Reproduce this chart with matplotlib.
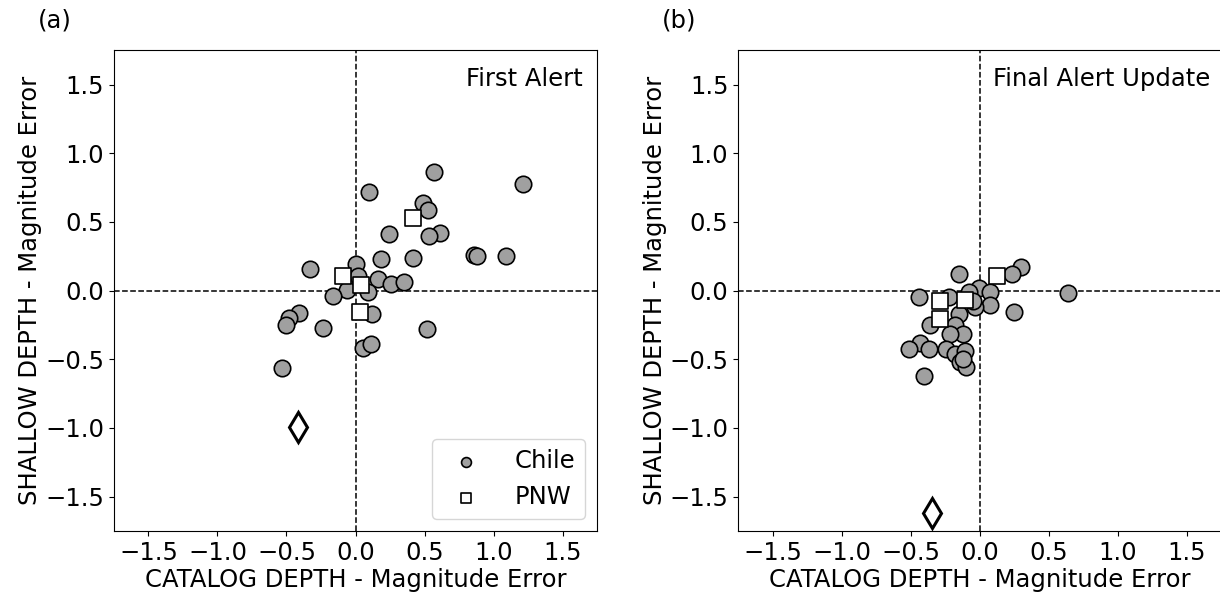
import matplotlib
matplotlib.use("Agg")
import matplotlib.pyplot as plt
import numpy as np

# (a) first alert: catalog-depth error vs shallow-depth error
chile_a_x = [0.572, 1.213, 0.099, 0.486, 0.522, 0.609, 0.534, 0.242, 0.188, 0.413,
             0.855, 0.879, 1.092, -0.329, 0.000, 0.020, 0.164, 0.254, 0.353, -0.065,
             -0.162, 0.092, -0.408, -0.481, -0.507, -0.237, 0.123, 0.517, 0.051,
             0.111, -0.536]
chile_a_y = [0.864, 0.774, 0.718, 0.638, 0.587, 0.420, 0.398, 0.410, 0.231, 0.238,
             0.262, 0.252, 0.255, 0.155, 0.192, 0.105, 0.085, 0.051, 0.066, 0.002,
             -0.036, -0.007, -0.165, -0.199, -0.252, -0.269, -0.172, -0.282, -0.420,
             -0.388, -0.563]
pnw_a_x = [0.415, -0.094, 0.039, 0.036]
pnw_a_y = [0.529, 0.104, 0.044, -0.153]
outlier_a = (-0.418, -0.990)

# (b) final alert update
chile_b_x = [0.297, 0.234, -0.147, 0.640, -0.005, 0.072, -0.077, -0.222, -0.437, 0.077,
             0.251, -0.036, -0.048, -0.150, -0.362, -0.176, -0.121, -0.217, -0.435,
             -0.510, -0.367, -0.242, -0.181, -0.104, -0.145, -0.101, -0.118, -0.406]
chile_b_y = [0.172, 0.119, 0.119, -0.019, 0.017, -0.012, -0.012, -0.044, -0.044, -0.102,
             -0.153, -0.121, -0.073, -0.172, -0.252, -0.252, -0.316, -0.316, -0.381,
             -0.427, -0.427, -0.425, -0.461, -0.437, -0.522, -0.558, -0.498, -0.619]
pnw_b_x = [0.126, -0.285, -0.109, -0.290]
pnw_b_y = [0.107, -0.073, -0.068, -0.206]
outlier_b = (-0.345, -1.619)

ticks = [-1.5, -1.0, -0.5, 0.0, 0.5, 1.0, 1.5]
lim = (-1.75, 1.75)

plt.rcParams['font.size'] = 17.5

fig = plt.figure(figsize=(12.2, 5.98), dpi=100)
ax_a = fig.add_axes([0.0934, 0.112, 0.396, 0.804])
ax_b = fig.add_axes([0.605, 0.112, 0.396, 0.804])

panels = [
    (ax_a, chile_a_x, chile_a_y, pnw_a_x, pnw_a_y, outlier_a, "First Alert", "(a)", 0.971),
    (ax_b, chile_b_x, chile_b_y, pnw_b_x, pnw_b_y, outlier_b, "Final Alert Update", "(b)", 0.978),
]

for ax, cx, cy, px, py, out, title, tag, tx in panels:
    ax.axhline(0, color='k', ls='--', lw=1.1, zorder=1)
    ax.axvline(0, color='k', ls='--', lw=1.1, zorder=1)
    ax.scatter(cx, cy, s=140, c='#a0a0a0', edgecolors='k', linewidths=1.2,
               label='Chile', zorder=3)
    ax.scatter(px, py, s=140, marker='s', c='white', edgecolors='k', linewidths=1.2,
               label='PNW', zorder=4)
    # the one event outside both clusters
    ax.plot(out[0], out[1], marker='d', ms=15, mfc='white', mec='k', mew=2.2,
            ls='none', zorder=5)
    ax.set_xlim(lim)
    ax.set_ylim(lim)
    ax.set_xticks(ticks)
    ax.set_yticks(ticks)
    ax.set_xlabel("CATALOG DEPTH - Magnitude Error", labelpad=2)
    ax.set_ylabel("SHALLOW DEPTH - Magnitude Error", labelpad=2)
    ax.text(tx, 0.965, title, transform=ax.transAxes, ha='right', va='top')
    ax.text(-0.122, 1.062, tag, transform=ax.transAxes, ha='center', va='center')

ax_a.legend(loc='lower right', markerscale=0.6, handletextpad=1.0)

fig.savefig("out.png", dpi=100)
